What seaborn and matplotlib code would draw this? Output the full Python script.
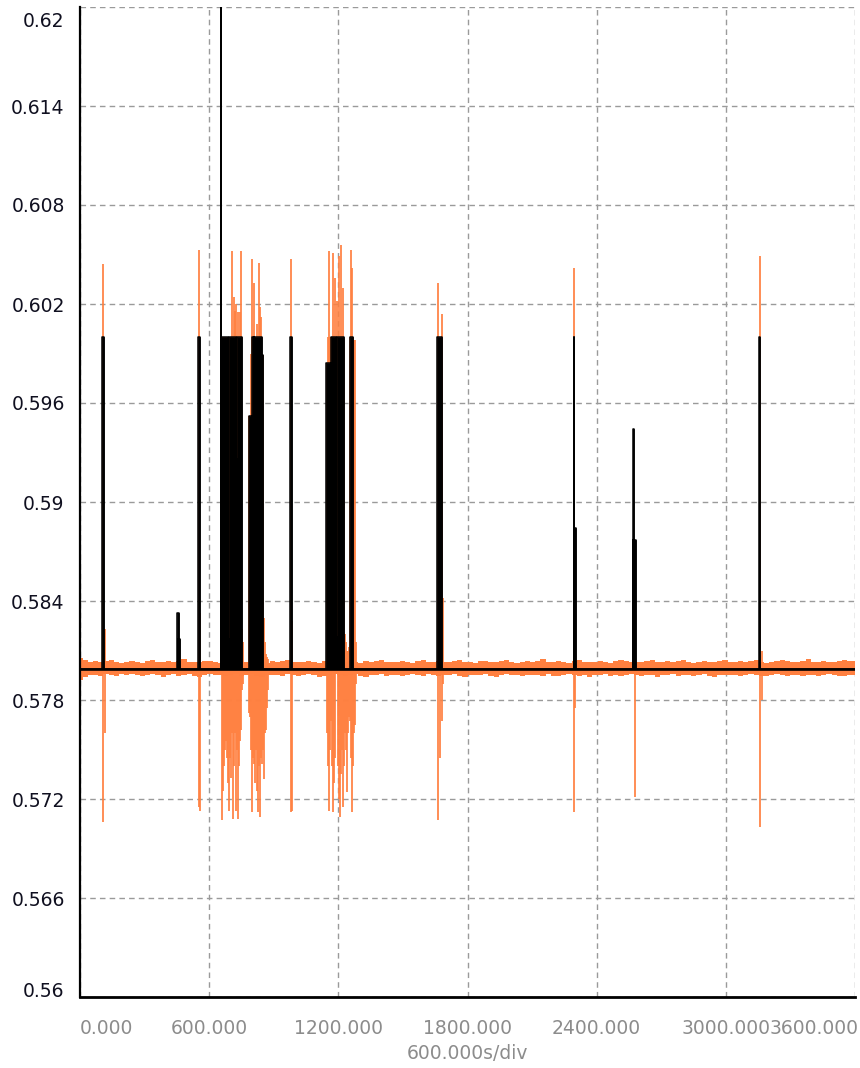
import numpy as np
import matplotlib
matplotlib.use("Agg")
import matplotlib.pyplot as plt
import matplotlib.transforms as mtransforms
import seaborn as sns

# ---------------------------------------------------------------- data
BASE = 0.5799          # resting level of both traces
T_MIN, T_MAX = 0, 3600

x_ticks = [0, 600, 1200, 1800, 2400, 3000, 3600]
x_tick_labels = ["0.000", "600.000", "1200.000", "1800.000",
                 "2400.000", "3000.000", "3600.000"]
y_ticks = [0.56, 0.566, 0.572, 0.578, 0.584, 0.59,
           0.596, 0.602, 0.608, 0.614, 0.62]
y_tick_labels = ["0.56", "0.566", "0.572", "0.578", "0.584", "0.59",
                 "0.596", "0.602", "0.608", "0.614", "0.62"]
x_axis_label = "600.000s/div"

# black trace: pulses above the resting level (start s, end s, top value)
pulse_start = [104, 452, 455, 550, 653, 655, 689, 694, 726, 731,
               783, 797, 806, 810, 844, 975, 1143, 1166, 1191, 1196,
               1254, 1658, 2293, 2293, 2571, 2571, 3156]
pulse_end = [110, 458, 463, 556, 657, 689, 694, 726, 731, 752,
             797, 806, 810, 844, 850, 984, 1166, 1191, 1196, 1226,
             1270, 1682, 2297, 2304, 2575, 2582, 3161]
pulse_top = [0.6000, 0.5833, 0.5817, 0.6000, 0.6250, 0.6000, 0.5817,
             0.6000, 0.5926, 0.6000, 0.5952, 0.6000, 0.5818, 0.6000,
             0.5989, 0.6000, 0.5984, 0.6000, 0.5818, 0.6000, 0.6000,
             0.6000, 0.6000, 0.5884, 0.5944, 0.5877, 0.6000]

# orange trace: excursions (time s, lowest value, highest value)
spike_t = [107, 114, 553, 557,
           660, 664, 669, 674, 678, 683, 687, 692, 696, 701, 706, 711,
           715, 720, 725, 730, 734, 739, 743, 748, 753, 757,
           786, 790, 795, 799, 803, 808, 813, 818, 822, 827, 831, 836,
           840, 845, 850, 855, 860, 864, 869, 873,
           980, 987,
           1147, 1152, 1157, 1162, 1166, 1171, 1175, 1180, 1184, 1193,
           1199, 1203, 1208, 1212, 1217, 1222, 1226, 1231, 1236, 1240,
           1245, 1250, 1254, 1259, 1263, 1268, 1273, 1277, 1282,
           1663, 1672, 1680, 1686,
           2295, 2300, 2577, 3159, 3166]
spike_lo = [0.5706, 0.5760, 0.5715, 0.5713,
            0.5707, 0.5725, 0.5740, 0.5750, 0.5755, 0.5745, 0.5730, 0.5713,
            0.5745, 0.5733, 0.5760, 0.5708, 0.5740, 0.5760, 0.5713, 0.5750,
            0.5708, 0.5740, 0.5755, 0.5762, 0.5786, 0.5790,
            0.5772, 0.5770, 0.5750, 0.5712, 0.5745, 0.5741, 0.5730, 0.5750,
            0.5725, 0.5712, 0.5740, 0.5709, 0.5745, 0.5741, 0.5750, 0.5732,
            0.5760, 0.5762, 0.5775, 0.5786,
            0.5712, 0.5713,
            0.5760, 0.5740, 0.5713, 0.5750, 0.5767, 0.5740, 0.5712, 0.5730,
            0.5745, 0.5818, 0.5740, 0.5720, 0.5709, 0.5735, 0.5750, 0.5715,
            0.5740, 0.5760, 0.5750, 0.5724, 0.5760, 0.5770, 0.5767, 0.5745,
            0.5712, 0.5740, 0.5760, 0.5765, 0.5790,
            0.5707, 0.5745, 0.5767, 0.5790,
            0.5712, 0.5775, 0.5721, 0.5703, 0.5780]
spike_hi = [0.6044, 0.5823, 0.6053, 0.5833,
            0.6000, 0.6000, 0.6000, 0.6000, 0.6000, 0.6000, 0.6000, 0.5985,
            0.6000, 0.6000, 0.6052, 0.6000, 0.6024, 0.6016, 0.6020, 0.6000,
            0.6015, 0.6000, 0.6015, 0.6052, 0.5823, 0.5815,
            0.5952, 0.5952, 0.5990, 0.6047, 0.6000, 0.6033, 0.6000, 0.6000,
            0.6008, 0.6000, 0.6045, 0.6018, 0.6012, 0.5989, 0.5989, 0.5830,
            0.5815, 0.5808, 0.5806, 0.5805,
            0.6047, 0.5828,
            0.5984, 0.6000, 0.6052, 0.6000, 0.6000, 0.6000, 0.6051, 0.6000,
            0.6036, 0.6022, 0.6000, 0.6049, 0.6000, 0.6056, 0.6000, 0.6030,
            0.5999, 0.5820, 0.5815, 0.5810, 0.5810, 0.5812, 0.6000, 0.6053,
            0.6042, 0.6000, 0.5998, 0.5998, 0.5815,
            0.6033, 0.6000, 0.6014, 0.5842,
            0.6042, 0.5812, 0.5812, 0.6049, 0.5810]

# orange trace: upper / lower edge of the noise band, in units of 1e-4
band_upper = [6.5, 5.0, 4.2, 4.6, 3.8, 4.4, 5.1, 4.0, 3.6, 4.3,
              4.8, 4.1, 3.7, 4.5, 5.3, 4.2, 3.9, 4.4, 4.0, 4.7,
              5.6, 4.3, 3.8, 4.1, 4.6, 4.9, 4.0, 3.5, 4.2, 4.8,
              4.4, 3.9, 4.3, 5.2, 4.5, 4.0, 3.7, 4.6, 4.1, 4.4,
              5.0, 4.2, 3.8, 4.3, 4.7, 4.0, 3.6, 4.5, 5.4, 4.3,
              3.9, 4.2, 4.8, 4.1, 3.7, 4.4, 4.0, 4.9, 5.5, 4.2,
              3.8, 4.3, 4.6, 4.0, 3.5, 4.4, 5.1, 4.2, 3.9, 4.5,
              4.1, 3.8, 4.7, 5.0, 4.3, 4.0, 3.6, 4.4, 4.8, 4.2,
              3.9, 4.6, 5.3, 4.1, 3.7, 4.3, 4.5, 4.0, 4.9, 5.6,
              4.2, 3.8, 4.4, 4.1, 3.6, 4.7, 5.0, 4.3, 3.9, 4.2,
              4.6, 4.0, 3.7, 4.5, 5.2, 4.4, 4.1, 3.8, 4.3, 4.9,
              5.5, 4.2, 3.9, 4.4, 4.0, 4.6, 5.1, 4.3, 3.7, 4.2,
              4.8, 4.1, 3.8, 4.5, 5.4, 4.2, 4.0, 4.6, 3.9, 4.4,
              5.0, 4.3, 3.6, 4.1, 4.7, 5.2, 4.4, 3.9, 4.2, 4.6,
              5.7, 4.3, 4.0, 4.5, 4.1, 3.8, 4.9, 5.3, 4.4, 4.6]
band_lower = [-6.8, -5.2, -4.0, -3.6, -4.2, -3.3, -3.8, -4.5, -3.5, -3.9,
              -3.2, -4.1, -4.6, -3.7, -3.4, -4.0, -4.8, -3.6, -3.3, -4.2,
              -3.9, -3.5, -4.4, -5.0, -3.8, -3.4, -4.1, -3.6, -4.7, -3.9,
              -3.3, -4.2, -3.7, -3.5, -4.5, -5.1, -4.0, -3.6, -3.9, -4.3,
              -3.4, -3.8, -4.6, -4.1, -3.5, -3.9, -4.9, -4.2, -3.6, -3.3,
              -4.0, -4.4, -3.7, -3.5, -4.2, -5.0, -4.1, -3.8, -3.4, -4.3,
              -3.9, -3.6, -4.7, -4.0, -3.5, -3.8, -4.4, -3.3, -3.9, -4.6,
              -4.1, -3.7, -3.4, -4.2, -4.8, -3.9, -3.6, -4.0, -3.5, -4.3,
              -4.9, -3.8, -3.4, -4.1, -3.7, -4.5, -4.0, -3.6, -3.9, -4.4,
              -3.3, -4.2, -4.7, -3.8, -3.5, -4.0, -4.3, -3.6, -5.0, -4.1,
              -3.7, -3.4, -4.2, -3.9, -4.6, -4.0, -3.5, -3.8, -4.4, -3.6,
              -3.9, -4.8, -4.1, -3.7, -3.4, -4.3, -4.0, -3.6, -4.5, -3.8,
              -3.5, -4.2, -4.9, -3.9, -3.6, -4.1, -3.7, -4.4, -4.0, -3.5,
              -3.8, -4.6, -4.2, -3.7, -3.4, -4.0, -4.5, -3.9, -3.6, -4.3,
              -4.1, -3.8, -4.7, -4.0, -3.5, -3.9, -4.2, -4.6, -3.7, -4.0]

# ---------------------------------------------------------------- style
ORANGE = "#ff8040"
GRID = "#9a9a9a"
YLAB = "#101020"
XLAB = "#8c8c8c"
FS = 13.5

sns.set_style("white")
plt.rcParams["font.family"] = ["DejaVu Sans"]

fig = plt.figure(figsize=(8.6, 10.68), dpi=100)
ax = fig.add_axes([80 / 860, 1 - 997 / 1068, 775 / 860, 990 / 1068])

# ---------------------------------------------------------------- orange trace
band_t = np.linspace(T_MIN, T_MAX, len(band_upper))
ax.fill_between(band_t, BASE + np.asarray(band_lower) * 1e-4,
                BASE + np.asarray(band_upper) * 1e-4,
                step="mid", color=ORANGE, linewidth=0, zorder=2)
ax.vlines(spike_t, spike_lo, spike_hi, color=ORANGE, linewidth=1.25, zorder=2)

# ---------------------------------------------------------------- black trace
p_start = np.asarray(pulse_start, dtype=float)
p_end = np.asarray(pulse_end, dtype=float)
p_top = np.asarray(pulse_top, dtype=float)
ax.bar(p_start, p_top - BASE, width=p_end - p_start, bottom=BASE,
       align="edge", color="black", edgecolor="black", linewidth=0.4,
       zorder=3)

trace_t = [T_MIN]
trace_v = [BASE]
for s, e, top in zip(pulse_start, pulse_end, pulse_top):
    trace_t += [s, s, e, e]
    trace_v += [BASE, top, top, BASE]
trace_t.append(T_MAX)
trace_v.append(BASE)
sns.lineplot(x=trace_t, y=trace_v, sort=False, estimator=None,
             color="black", linewidth=1.1, ax=ax, zorder=4)
# resting level is drawn a little heavier
ax.axhline(BASE, color="black", linewidth=1.9, zorder=4)

# ---------------------------------------------------------------- axes
ax.set_xlim(T_MIN, T_MAX)
ax.set_ylim(y_ticks[0], y_ticks[-1])
ax.set_xticks(x_ticks)
ax.set_xticklabels(x_tick_labels)
ax.set_yticks(y_ticks)
ax.set_yticklabels(y_tick_labels)

ax.grid(True, color=GRID, linestyle=(0, (4, 3)), linewidth=1.0, zorder=1)
ax.set_axisbelow(True)

for side in ("top", "right"):
    ax.spines[side].set_visible(False)
ax.spines["left"].set_color("black")
ax.spines["left"].set_linewidth(1.6)
ax.spines["bottom"].set_color("black")
ax.spines["bottom"].set_linewidth(2.0)
ax.spines["left"].set_zorder(5)
ax.spines["bottom"].set_zorder(5)

ax.tick_params(axis="y", length=0, pad=11, labelsize=FS, labelcolor=YLAB)
ax.tick_params(axis="x", direction="in", length=4, width=1, color="#777777",
               pad=16, labelsize=FS, labelcolor=XLAB)

ax.set_xlabel(x_axis_label, fontsize=FS, color=XLAB, labelpad=4)
ax.set_ylabel("")

# keep the outermost labels inside the plotting frame
ylabels = ax.get_yticklabels()
ylabels[-1].set_va("top")
ylabels[-1].set_transform(ylabels[-1].get_transform() +
                          mtransforms.ScaledTranslation(0, -0.05, fig.dpi_scale_trans))
ylabels[0].set_va("baseline")

xlabels = ax.get_xticklabels()
xlabels[0].set_ha("left")
xlabels[-1].set_transform(xlabels[-1].get_transform() +
                          mtransforms.ScaledTranslation(-0.41, 0, fig.dpi_scale_trans))

fig.savefig("out.png", dpi=100, facecolor="white")
